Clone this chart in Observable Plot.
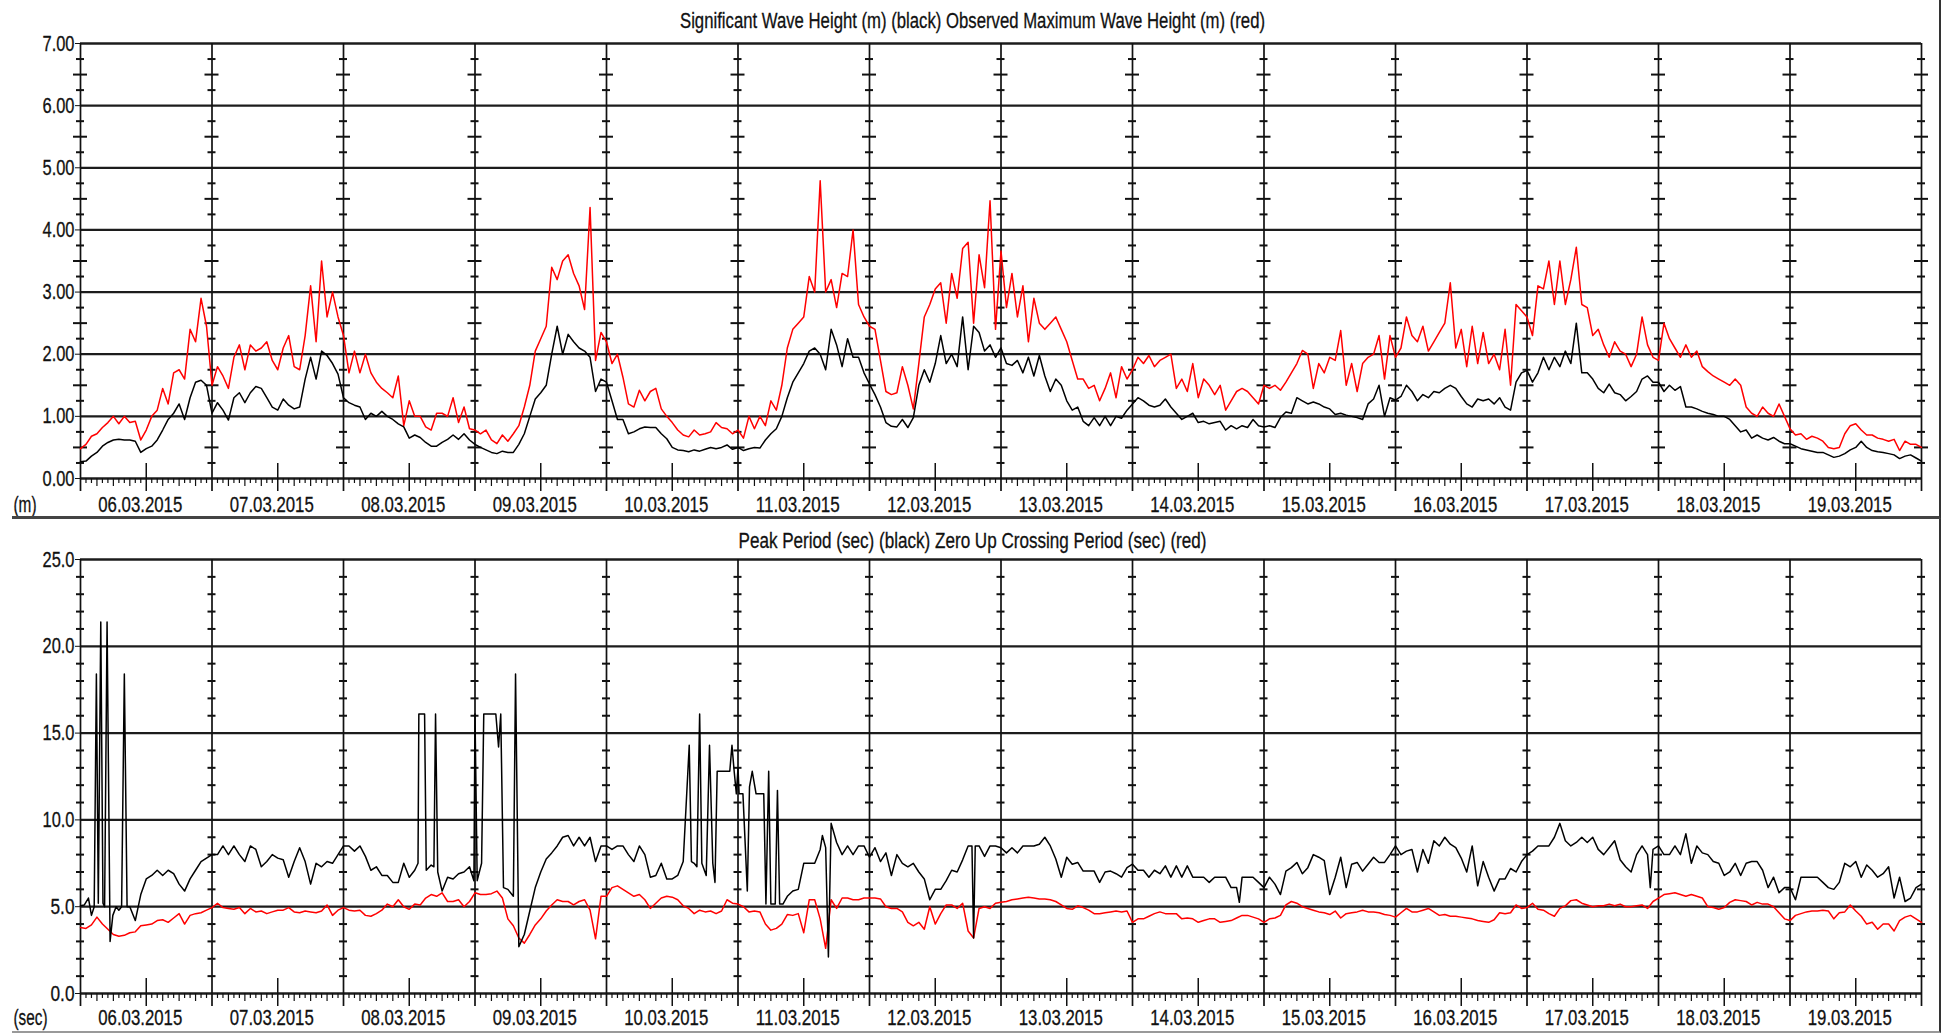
<!DOCTYPE html>
<html><head><meta charset="utf-8">
<script src="https://cdn.jsdelivr.net/npm/d3@7"></script>
<script src="https://cdn.jsdelivr.net/npm/@observablehq/plot@0.6"></script>
<style>
html,body{margin:0;padding:0;background:#fff;}
#wrap{position:relative;width:1941px;height:1033px;overflow:hidden;background:#fff;}
#wrap svg{position:absolute;left:0;}
.box{position:absolute;box-sizing:border-box;pointer-events:none;z-index:5;}
</style></head><body><div id="wrap"></div>
<script>
const FONT = '"Liberation Sans Narrow","Arial Narrow","Liberation Sans",Arial,sans-serif';

const topTitle = "Significant Wave Height (m) (black) Observed Maximum Wave Height (m) (red)";
const bottomTitle = "Peak Period (sec) (black) Zero Up Crossing Period (sec) (red)";
const dayLabels = ["06.03.2015","07.03.2015","08.03.2015","09.03.2015","10.03.2015","11.03.2015","12.03.2015",
  "13.03.2015","14.03.2015","15.03.2015","16.03.2015","17.03.2015","18.03.2015","19.03.2015"];
const heightTicks = [0,1,2,3,4,5,6,7];
const periodTicks = [0,5,10,15,20,25];

// Significant wave height (m), hourly from 06.03.2015 00:00
const hs = [
0.27,0.28,0.36,0.42,0.52,0.58,0.62,0.63,0.62,0.62,0.60,0.42,0.48,0.52,0.62,0.78,0.95,1.05,1.20,0.95,1.30,1.55,1.58,1.50,
1.05,1.22,1.10,0.94,1.30,1.38,1.22,1.38,1.48,1.45,1.30,1.15,1.10,1.28,1.18,1.12,1.15,1.60,1.95,1.60,2.05,1.98,1.85,1.68,
1.30,1.22,1.18,1.15,0.95,1.05,1.00,1.08,1.00,0.95,0.88,0.83,0.65,0.70,0.66,0.58,0.52,0.52,0.58,0.63,0.70,0.63,0.72,0.62,
0.55,0.50,0.46,0.42,0.40,0.44,0.42,0.42,0.55,0.72,1.00,1.28,1.38,1.50,2.00,2.45,2.00,2.32,2.20,2.10,2.05,1.95,1.40,1.60,
1.55,1.25,0.95,0.95,0.72,0.75,0.80,0.83,0.82,0.82,0.72,0.64,0.50,0.46,0.45,0.43,0.46,0.44,0.47,0.50,0.48,0.50,0.54,0.47,
0.50,0.45,0.48,0.50,0.49,0.62,0.72,0.80,1.00,1.30,1.55,1.70,1.85,2.05,2.10,2.00,1.75,2.40,2.15,1.80,2.25,1.95,1.95,1.70,
1.52,1.35,1.15,0.90,0.84,0.83,0.95,0.82,0.98,1.50,1.75,1.55,1.85,2.30,1.85,2.00,1.80,2.60,1.75,2.45,2.35,2.05,2.15,1.95,
2.10,1.85,1.82,1.90,1.70,1.95,1.65,1.98,1.65,1.40,1.60,1.50,1.25,1.10,1.15,0.92,0.85,0.98,0.85,1.00,0.85,1.00,0.97,1.10,
1.20,1.30,1.25,1.18,1.15,1.18,1.28,1.15,1.05,0.95,1.00,1.05,0.90,0.92,0.88,0.90,0.92,0.78,0.85,0.80,0.85,0.82,0.95,0.85,
0.83,0.85,0.82,0.98,1.07,1.05,1.30,1.25,1.20,1.23,1.20,1.15,1.12,1.03,1.05,1.02,1.00,0.98,0.95,1.20,1.28,1.50,1.00,1.30,
1.26,1.32,1.50,1.40,1.25,1.35,1.30,1.40,1.38,1.45,1.50,1.45,1.32,1.20,1.15,1.28,1.25,1.28,1.20,1.30,1.15,1.10,1.55,1.70,
1.74,1.55,1.70,1.95,1.75,1.95,1.80,2.05,1.85,2.50,1.70,1.70,1.60,1.45,1.38,1.52,1.38,1.35,1.25,1.32,1.40,1.60,1.65,1.55,
1.55,1.40,1.50,1.42,1.48,1.15,1.15,1.12,1.08,1.05,1.03,1.00,1.00,0.95,0.85,0.75,0.78,0.65,0.70,0.65,0.62,0.66,0.60,0.56,
0.56,0.52,0.48,0.46,0.44,0.42,0.42,0.38,0.34,0.36,0.40,0.46,0.50,0.60,0.50,0.45,0.43,0.42,0.40,0.38,0.32,0.36,0.38,0.33,
0.28];

// Observed maximum wave height (m), hourly
const hmax = [
0.48,0.55,0.68,0.72,0.82,0.90,1.00,0.88,1.00,0.90,0.92,0.62,0.78,1.00,1.10,1.45,1.20,1.70,1.75,1.60,2.40,2.20,2.90,2.45,
1.50,1.80,1.65,1.45,1.95,2.15,1.75,2.15,2.05,2.10,2.20,1.90,1.75,2.10,2.30,1.80,1.75,2.30,3.10,2.20,3.50,2.60,3.00,2.60,
2.30,1.70,2.05,1.70,2.00,1.70,1.55,1.45,1.38,1.30,1.65,0.85,1.25,1.00,1.00,0.83,0.78,1.05,1.05,1.00,1.30,0.90,1.15,0.80,
0.78,0.72,0.78,0.62,0.56,0.70,0.60,0.72,0.85,1.15,1.50,2.05,2.25,2.45,3.40,3.20,3.50,3.60,3.30,3.10,2.72,4.36,1.90,2.35,
2.20,1.85,2.00,1.63,1.20,1.15,1.42,1.25,1.40,1.45,1.12,1.00,0.90,0.78,0.70,0.67,0.78,0.70,0.72,0.75,0.90,0.82,0.80,0.72,
0.78,0.65,1.00,0.80,1.00,0.85,1.25,1.10,1.50,2.10,2.40,2.50,2.60,3.25,3.00,4.79,3.00,3.20,2.75,3.30,3.25,4.00,2.80,2.60,
2.45,2.40,1.90,1.40,1.35,1.38,1.80,1.50,1.12,1.85,2.60,2.80,3.05,3.15,2.50,3.30,2.90,3.70,3.80,2.50,3.60,3.07,4.47,2.40,
3.66,2.75,3.30,2.60,3.10,2.20,2.90,2.50,2.40,2.50,2.60,2.40,2.20,1.90,1.60,1.60,1.45,1.50,1.25,1.45,1.70,1.30,1.80,1.60,
1.75,1.95,1.85,1.98,1.80,1.90,1.95,2.00,1.45,1.60,1.40,1.85,1.30,1.60,1.50,1.35,1.50,1.10,1.25,1.40,1.45,1.40,1.30,1.20,
1.50,1.45,1.50,1.42,1.55,1.70,1.85,2.06,2.00,1.45,1.85,1.70,1.95,1.90,2.38,1.50,1.85,1.40,1.85,1.95,2.00,2.30,1.60,2.30,
1.95,2.10,2.60,2.30,2.20,2.45,2.05,2.20,2.35,2.50,3.15,2.10,2.40,1.80,2.45,1.85,2.35,1.85,2.00,1.75,2.40,1.50,2.80,2.70,
2.60,2.30,3.10,3.05,3.50,2.80,3.50,2.80,3.20,3.72,2.80,2.75,2.30,2.40,2.15,1.95,2.20,2.05,2.00,1.80,2.00,2.60,2.15,1.95,
1.90,2.50,2.25,2.10,1.95,2.15,1.95,2.05,1.80,1.72,1.65,1.60,1.55,1.50,1.60,1.50,1.15,1.05,1.00,1.15,1.05,1.00,1.20,1.00,
0.80,0.70,0.72,0.63,0.68,0.65,0.60,0.50,0.48,0.50,0.72,0.85,0.88,0.78,0.70,0.70,0.65,0.63,0.60,0.63,0.45,0.60,0.55,0.55,
0.50];

// Zero up crossing period (s), hourly
const tz = [
3.80,3.75,3.95,4.40,4.00,3.70,3.40,3.30,3.35,3.50,3.55,3.90,3.95,4.00,4.20,4.25,4.10,4.35,4.60,4.00,4.50,4.60,4.65,4.80,
4.95,5.20,4.95,4.90,4.85,4.95,4.60,4.90,4.70,4.75,4.60,4.70,4.80,4.80,4.95,4.70,4.65,4.75,4.70,4.65,4.75,5.10,4.50,4.80,
4.95,4.80,4.75,4.80,4.50,4.45,4.60,4.80,5.15,5.00,5.40,5.00,4.85,5.15,5.10,5.50,5.70,5.60,5.80,5.30,5.30,5.40,5.00,5.30,
5.80,5.70,5.70,5.75,5.90,5.50,4.30,3.90,3.20,2.90,3.40,3.95,4.30,4.75,5.10,5.40,5.30,5.30,5.10,5.30,5.40,4.80,3.15,5.60,
5.60,6.10,6.20,6.00,5.80,5.60,5.70,5.40,4.90,5.20,5.50,5.60,5.55,5.40,5.05,4.90,4.60,4.80,4.70,4.75,4.60,4.75,5.40,5.20,
5.15,5.00,4.70,4.75,4.70,4.00,3.65,3.75,4.00,4.55,4.50,4.60,3.50,5.40,5.40,4.30,2.60,5.40,4.90,5.50,5.50,5.40,5.40,5.50,
5.50,5.50,5.45,5.00,4.90,4.90,4.70,4.10,3.90,4.10,3.70,5.00,4.00,4.60,5.10,5.10,4.90,5.20,3.60,3.20,4.90,5.00,4.90,5.20,
5.25,5.30,5.40,5.45,5.50,5.55,5.50,5.45,5.45,5.40,5.30,5.10,4.90,4.85,5.05,4.95,4.80,4.60,4.60,4.65,4.70,4.75,4.70,4.75,
4.10,4.30,4.30,4.45,4.60,4.70,4.60,4.60,4.60,4.30,4.35,4.30,4.10,4.20,4.30,4.30,4.10,4.15,4.20,4.35,4.50,4.50,4.40,4.30,
4.10,4.30,4.35,4.50,5.10,5.30,5.20,5.00,4.90,4.80,4.70,4.65,4.55,4.75,4.35,4.60,4.65,4.70,4.80,4.70,4.70,4.65,4.55,4.50,
4.40,4.65,4.90,4.70,4.70,4.80,4.90,4.70,4.50,4.55,4.45,4.45,4.40,4.35,4.30,4.20,4.15,4.10,4.25,4.65,4.60,4.65,5.10,4.90,
4.95,5.20,4.85,4.80,4.60,4.45,4.90,5.05,5.35,5.40,5.20,5.10,5.00,5.05,5.05,5.15,5.05,5.15,5.00,5.00,5.05,5.10,4.90,5.30,
5.50,5.70,5.75,5.80,5.70,5.60,5.70,5.60,5.50,5.00,4.95,4.85,4.95,5.25,5.40,5.35,5.30,5.10,5.25,5.15,5.15,5.00,4.65,4.30,
4.20,4.50,4.60,4.70,4.75,4.75,4.80,4.75,4.30,4.65,4.70,5.10,4.75,4.45,4.00,4.10,3.70,4.00,4.00,3.60,4.20,4.40,4.50,4.30,
4.10];

// Peak period (s): pairs of (hours since 06.03.2015 00:00, value)
const tp = [
0,5.05, 0.7,5.1, 1.45,5.5, 2,4.5, 2.5,5.0, 2.9,18.4, 3.25,5.2, 3.7,21.4, 4.1,5.2, 4.4,5.0, 4.85,21.4, 5.4,3.0, 5.9,4.5,
6.5,5.0, 7,4.8, 7.5,5.0, 8,18.4, 8.5,5.0, 9,5.0, 10,4.2, 11,5.7, 12,6.6, 13,6.8, 14,7.1, 15,6.8, 16,7.1, 17,6.9, 18,6.3,
19,5.9, 20,6.6, 21,7.1, 22,7.6, 23,7.8,
24,8.0, 25,8.0, 26,8.5, 27,8.0, 28,8.5, 29,8.0, 30,7.6, 31,8.5, 32,8.3, 33,7.3, 34,7.6, 35,8.0, 36,7.8, 37,7.7, 38,6.7,
39,7.6, 40,8.4, 41,7.6, 42,6.3, 43,7.5, 44,7.3, 45,7.6, 46,7.5, 47,8.0,
48,8.5, 49,8.5, 50,8.2, 51,8.5, 52,7.9, 53,7.1, 54,7.3, 55,6.8, 56,6.8, 57,6.4, 58,6.4, 59,7.5, 60,6.7, 61,7.1, 61.6,7.5,
61.75,16.1, 62.8,16.1, 63.1,7.1, 64,7.4, 64.5,7.3, 64.8,16.1, 65.2,7.0, 66,5.9, 67,6.7, 68,6.6, 69,6.9, 70,7.0, 71,7.3, 71.8,6.5,
72,16.1, 72.4,6.5, 73.2,7.5, 73.6,16.1, 75.8,16.1, 76.3,14.2, 76.7,16.1, 77.2,6.1, 78,6.0, 79,5.6, 79.4,18.4, 80,2.7, 81,3.4,
82,4.75, 83,6.1, 84,7.0, 85,7.75, 86,8.1, 87,8.5, 88,9.0, 89,9.1, 90,8.5, 91,9.0, 92,8.5, 93,9.0, 94,7.6, 95,8.5,
96,8.5, 97,8.3, 98,8.5, 99,8.5, 100,8.0, 101,7.6, 102,8.5, 103,8.0, 104,6.7, 105,6.8, 106,7.5, 107,6.6, 108,6.6, 109,6.8,
110,7.6, 111.1,14.3, 111.5,7.6, 112,7.5, 112.5,7.3, 113,16.1, 113.4,7.5, 114.2,6.8, 114.8,14.3, 115.4,7.5, 115.8,6.4,
116.2,12.8, 118.5,12.8, 118.9,14.3, 119.3,12.8, 119.7,11.5,
120,13.0, 120.2,11.5, 120.9,11.5, 121.7,5.9, 122.1,11.9, 122.6,12.8, 123.3,11.5, 124.7,11.5, 125.1,5.15, 125.6,12.8, 126,5.15,
126.8,5.15, 127.2,11.7, 127.6,5.15, 128.2,5.15, 129,5.6, 130,5.9, 131,6.0, 132,7.5, 133,7.5, 134,7.5, 135,8.3, 135.4,9.1,
136,8.4, 136.5,2.1, 137,9.8, 138,8.7, 139,8.0, 140,8.5, 141,8.0, 142,8.5, 143,8.5,
144,7.85, 145,8.4, 146,7.6, 147,8.1, 148,6.8, 149,8.0, 150,7.5, 151,7.3, 152,7.5, 153,7.0, 154,6.6, 155,5.4, 156,6.0, 157,6.0,
158,6.5, 159,7.1, 160,7.0, 161,7.7, 162,8.5, 162.7,8.5, 163,3.2, 163.3,8.5, 164,8.5, 165,7.9, 166,8.5, 167,8.5,
168,8.4, 169,8.1, 170,8.4, 171,8.1, 172,8.5, 173,8.5, 174,8.5, 175,8.6, 176,9.0, 177,8.5, 178,7.75, 179,6.7, 180,7.85,
181,7.45, 182,7.55, 183,7.05, 184,7.05, 185,7.05, 186,6.4, 187,7.0, 188,7.05, 189,6.9, 190,6.7, 191,7.25,
192,7.45, 193,7.1, 194,7.1, 195,6.7, 196,7.1, 197,6.9, 198,7.35, 199,6.7, 200,7.35, 201,6.7, 202,7.35, 203,6.7, 204,6.7,
205,6.7, 206,6.4, 207,6.7, 208,6.7, 209,6.7, 210,6.1, 211,6.1, 211.5,5.25, 212,6.7, 213,6.7, 214,6.7, 215,6.4,
216,6.1, 217,6.7, 218,6.3, 219,5.7, 220,7.05, 221,7.25, 222,7.55, 223,6.9, 224,7.25, 225,8.0, 226,7.85, 227,7.65, 228,5.7,
229,6.7, 230,7.85, 231,6.1, 232,7.45, 233,7.55, 234,7.05, 235,7.45, 236,7.85, 237,7.55, 238,7.55, 239,8.0,
240,8.5, 241,8.0, 242,8.2, 243,8.3, 244,7.0, 245,8.3, 246,7.5, 247,8.8, 248,8.5, 249,9.0, 250,8.6, 251,8.4, 252,7.8, 253,7.0,
254,8.5, 255,6.2, 256,7.6, 257,6.7, 258,5.9, 259,6.6, 260,6.6, 261,7.2, 262,7.0, 263,7.6,
264,8.0, 265,8.2, 266,8.5, 267,8.5, 268,8.5, 269,9.0, 270,9.8, 271,8.8, 272,8.5, 273,8.7, 274,9.0, 275,8.7, 276,9.0, 277,8.3,
278,8.0, 279,8.4, 280,8.8, 281,7.7, 282,7.3, 283,7.0, 284,8.0, 285,8.5, 286,8.0, 286.5,6.1, 287,8.3,
288,8.5, 289,8.0, 290,8.0, 291,8.5, 292,8.0, 293,9.2, 294,7.5, 295,8.5, 296,8.1, 297,8.0, 298,7.6, 299,7.5, 300,6.8, 301,7.0,
302,7.5, 303,6.8, 304,7.5, 305,7.6, 306,7.6, 307,7.1, 308,6.1, 309,6.7, 310,5.8, 311,6.1,
312,6.1, 313,5.4, 314,6.7, 315,6.7, 316,6.7, 317,6.7, 318,6.4, 319,6.1, 320,6.0, 321,6.4, 322,7.5, 323,7.3, 324,7.6, 325,6.7,
326,7.4, 327,7.1, 328,6.7, 329,6.9, 330,7.3, 331,5.5, 332,6.7, 333,5.3, 334,5.5, 335,6.1, 336,6.3];

// ---------------------------------------------------------------
const HOUR = 3600000, DAY = 24 * HOUR;
const start = Date.UTC(2015, 2, 6);
const t = h => new Date(start + h * HOUR);
const series = arr => arr.map((v, i) => ({time: t(i), value: v}));
const pairs = arr => { const out = []; for (let i = 0; i < arr.length; i += 2) out.push({time: t(arr[i]), value: arr[i + 1]}); return out; };

const W = 1941, ML = 80, MR = 20;
const FS = 22;
const nHours = dayLabels.length * 24;
const xDomain = [t(0), t(nHours)];
const msPerPx = nHours * HOUR / (W - ML - MR);
const dayLines = d3.range(dayLabels.length + 1).map(d => t(d * 24));
const noons = dayLabels.map((_, d) => t(d * 24 + 12));
const minorHours = d3.range(1, nHours).filter(h => h % 12 !== 0);

function panel(o) {
  const perPx = o.yMax / (o.height - o.mt - o.mb);
  const crosses = [];
  for (const d of dayLines) for (const m of o.minor) crosses.push({x: d, y: m.v, w: m.w});
  const svg = Plot.plot({
    width: W, height: o.height, marginTop: o.mt, marginBottom: o.mb, marginLeft: ML, marginRight: MR,
    x: {type: "utc", domain: xDomain, axis: null},
    y: {domain: [0, o.yMax], axis: null},
    style: {fontFamily: FONT, color: "#111", background: "transparent", overflow: "visible"},
    marks: [
      Plot.ruleY(o.ticks, {stroke: "#1c1c1c", strokeWidth: 2.3}),
      Plot.ruleX(dayLines, {y1: -13 * perPx, y2: o.yMax, stroke: "#111", strokeWidth: 1.7}),
      Plot.ruleY(crosses, {y: "y", x1: d => new Date(+d.x - d.w * msPerPx), x2: d => new Date(+d.x + d.w * msPerPx), stroke: "#111", strokeWidth: 2}),
      Plot.ruleX(noons, {y1: -13 * perPx, y2: 15 * perPx, stroke: "#111", strokeWidth: 1.5}),
      Plot.ruleX(minorHours.filter(h => h % 3 !== 0).map(t), {y1: -5 * perPx, y2: 0, stroke: "#111", strokeWidth: 1.2}),
      Plot.ruleX(minorHours.filter(h => h % 3 === 0).map(t), {y1: -8 * perPx, y2: 0, stroke: "#111", strokeWidth: 1.2}),
      Plot.line(o.red, {x: "time", y: "value", stroke: "#ff0000", strokeWidth: 1.5}),
      Plot.line(o.black, {x: "time", y: "value", stroke: "#000000", strokeWidth: 1.5}),
      Plot.axisY(o.ticks, {tickSize: 5, tickPadding: 1, tickFormat: o.fmt, fontSize: FS}),
      Plot.text(noons, {x: d => d, y: 0, dx: -6, dy: o.labelDy, text: d => dayLabels[Math.floor((d - start) / DAY)], fontSize: FS, lineAnchor: "middle", fill: "#111"}),
      Plot.text([o.unit], {frameAnchor: "bottom-left", dx: -67, dy: o.labelDy, textAnchor: "start", lineAnchor: "middle", fontSize: FS, fill: "#111"}),
      Plot.text([o.title], {frameAnchor: "top", dx: -28.5, dy: o.titleDy, fontSize: FS, lineAnchor: "middle", fill: "#111"})
    ]
  });
  svg.style.top = o.top + "px";
  // condensed text widths as in the reference
  d3.select(svg).selectAll("text").each(function () {
    const s = this.textContent;
    let L = null;
    if (s === topTitle) L = 585;
    else if (s === bottomTitle) L = 468;
    else if (/^\d\d\.\d\d\.\d{4}$/.test(s)) L = 84;
    else if (s === "(m)") L = 23;
    else if (s === "(sec)") L = 34;
    else if (/^\d+\.\d+$/.test(s)) L = s.length === 4 ? 32 : 24;
    if (L) {
      this.setAttribute("textLength", L);
      this.setAttribute("lengthAdjust", "spacingAndGlyphs");
      this.setAttribute("stroke", "#111");
      this.setAttribute("stroke-width", "0.3");
    }
  });
  return svg;
}

const wrap = document.getElementById("wrap");
const topMinor = d3.range(0.25, 7, 0.25).filter(v => v % 1 !== 0).map(v => ({v, w: v % 1 === 0.5 ? 7 : 4}));
const botMinor = d3.range(1, 25).filter(v => v % 5 !== 0).map(v => ({v, w: 4}));

wrap.appendChild(panel({
  top: 0, height: 520, mt: 43, mb: 42, yMax: 7, ticks: heightTicks, minor: topMinor,
  red: series(hmax), black: series(hs), fmt: d3.format(".2f"),
  unit: "(m)", title: topTitle, titleDy: -23, labelDy: 26
}));
wrap.appendChild(panel({
  top: 520, height: 513, mt: 39, mb: 40, yMax: 25, ticks: periodTicks, minor: botMinor,
  red: series(tz), black: pairs(tp), fmt: d3.format(".1f"),
  unit: "(sec)", title: bottomTitle, titleDy: -19, labelDy: 24
}));

// panel frames (right edge and bottom separator)
const b1 = document.createElement("div");
b1.className = "box";
Object.assign(b1.style, {left: "12px", top: "-4px", width: "1929px", height: "523px", borderRight: "2px solid #333", borderBottom: "3px solid #444"});
wrap.appendChild(b1);
const b2 = document.createElement("div");
b2.className = "box";
Object.assign(b2.style, {left: "12px", top: "519px", width: "1929px", height: "514px", borderRight: "2px solid #333", borderBottom: "2px solid #999"});
wrap.appendChild(b2);
</script>
</body></html>
